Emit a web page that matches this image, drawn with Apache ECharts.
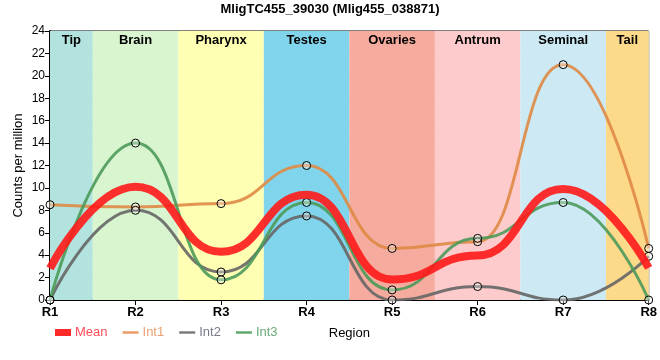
<!DOCTYPE html>
<html><head><meta charset="utf-8">
<script src="https://cdn.jsdelivr.net/npm/echarts@6/dist/echarts.min.js"></script>
<style>html,body{margin:0;padding:0;background:#fff}#c{width:660px;height:360px}</style>
</head><body><div id="c"></div>
<script>
const regions = ['R1','R2','R3','R4','R5','R6','R7','R8'];
const meanVals = [2.83, 10.1, 4.3, 9.4, 1.83, 3.97, 9.9, 2.87];
const int1Vals = [8.5, 8.3, 8.6, 12.0, 4.6, 5.2, 21.0, 4.6];
const int2Vals = [0, 8.0, 2.5, 7.5, 0, 1.2, 0, 3.9];
const int3Vals = [0, 14.0, 1.8, 8.7, 0.9, 5.5, 8.7, 0];
const bandNames = ['Tip','Brain','Pharynx','Testes','Ovaries','Antrum','Seminal','Tail'];
const bandStarts = [1, 1.5, 2.5, 3.5, 4.5, 5.5, 6.5, 7.5];
const bandEnds = [1.5, 2.5, 3.5, 4.5, 5.5, 6.5, 7.5, 8];
const bandColors = ['#b3e3de','#d9f5d0','#ffffb3','#80d5ec','#f5ab9d','#fdcbcb','#cdeaf4','#fdd98a'];
const yTicks = {min: 0, max: 24, step: 2};

const pts = vals => vals.map((v, i) => [i + 1, v]);
const markerStyle = {color: 'rgba(255,255,255,0.35)', borderColor: '#000', borderWidth: 1};
const lineIcon = 'path://M0 0H16V2.4H0Z';
const legendIcon = c => ({color: c, borderColor: c, borderWidth: 0, opacity: 1});

const chart = echarts.init(document.getElementById('c'), null, {renderer: 'canvas'});
chart.setOption({
  animation: false,
  textStyle: {fontFamily: 'Liberation Sans, Arial, sans-serif'},
  title: {
    text: 'MligTC455_39030 (Mlig455_038871)', left: 'center', top: -2,
    textStyle: {fontSize: 13, fontWeight: 'bold', color: '#000'}
  },
  grid: {left: 50, right: 8, top: 31, bottom: 60, show: true, borderColor: '#000', borderWidth: 1, backgroundColor: 'transparent'},
  legend: {
    left: 50, top: 321, itemWidth: 16, itemHeight: 7, itemGap: 15,
    textStyle: {fontSize: 13, padding: [0, 0, 0, -1]},
    data: [
      {name: 'Mean', icon: 'rect', itemStyle: legendIcon('#ff2a2a'), textStyle: {color: '#ff4d5a'}},
      {name: 'Int1', icon: lineIcon, itemStyle: legendIcon('#e89a60'), textStyle: {color: '#e8a070'}},
      {name: 'Int2', icon: lineIcon, itemStyle: legendIcon('#777777'), textStyle: {color: '#777a88'}},
      {name: 'Int3', icon: lineIcon, itemStyle: legendIcon('#5aa868'), textStyle: {color: '#6aaa78'}}
    ]
  },
  xAxis: {
    type: 'value', min: 1, max: 8, interval: 1,
    name: 'Region', nameLocation: 'middle', nameGap: 27, nameMoveOverlap: false,
    nameTextStyle: {fontSize: 13, color: '#000'},
    axisLine: {show: true, onZero: false, lineStyle: {color: '#000', width: 2}},
    axisTick: {show: true, length: 5, lineStyle: {color: '#000'}},
    axisLabel: {formatter: v => regions[v - 1], fontSize: 13, fontWeight: 'bold', color: '#000', margin: 6},
    splitLine: {show: true, lineStyle: {color: '#ccc', width: 1}}
  },
  yAxis: {
    type: 'value', min: yTicks.min, max: yTicks.max, interval: yTicks.step,
    name: 'Counts per million', nameLocation: 'middle', nameGap: 25, nameRotate: 90, nameMoveOverlap: false,
    nameTextStyle: {fontSize: 13, color: '#000'},
    axisLine: {show: true, lineStyle: {color: '#000', width: 2}},
    axisTick: {show: true, length: 5, lineStyle: {color: '#000'}},
    axisLabel: {fontSize: 12, color: '#000', margin: 5},
    splitLine: {show: true, lineStyle: {color: '#ccc', width: 1}}
  },
  series: [
    {
      name: 'Bands', type: 'line', data: [], silent: true,
      markArea: {
        silent: true,
        label: {show: true, position: 'insideTop', distance: 3, fontSize: 13, fontWeight: 'bold', color: '#000'},
        data: bandNames.map((n, i) => [
          {name: n, xAxis: bandStarts[i], itemStyle: {color: bandColors[i], opacity: 1}},
          {xAxis: bandEnds[i], yAxis: yTicks.max}
        ])
      }
    },
    {
      name: 'Int1', type: 'line', data: pts(int1Vals), smooth: 0.5, smoothMonotone: 'x',
      symbol: 'circle', symbolSize: 8, showSymbol: true, z: 3,
      lineStyle: {color: '#df8a45', width: 3, opacity: 0.9},
      itemStyle: Object.assign({}, markerStyle)
    },
    {
      name: 'Int2', type: 'line', data: pts(int2Vals), smooth: 0.5, smoothMonotone: 'x',
      symbol: 'circle', symbolSize: 8, z: 3,
      lineStyle: {color: '#666', width: 3, opacity: 0.9},
      itemStyle: Object.assign({}, markerStyle)
    },
    {
      name: 'Int3', type: 'line', data: pts(int3Vals), smooth: 0.5, smoothMonotone: 'x',
      symbol: 'circle', symbolSize: 8, z: 3,
      lineStyle: {color: '#4c9a5a', width: 3, opacity: 0.9},
      itemStyle: Object.assign({}, markerStyle)
    },
    {
      name: 'Mean', type: 'line', data: pts(meanVals), smooth: 0.5, smoothMonotone: 'x',
      showSymbol: false, symbol: 'none', z: 4,
      lineStyle: {color: '#ff1a1a', width: 8, opacity: 0.9},
      itemStyle: {color: '#ff2a2a'}
    }
  ]
});
</script></body></html>
